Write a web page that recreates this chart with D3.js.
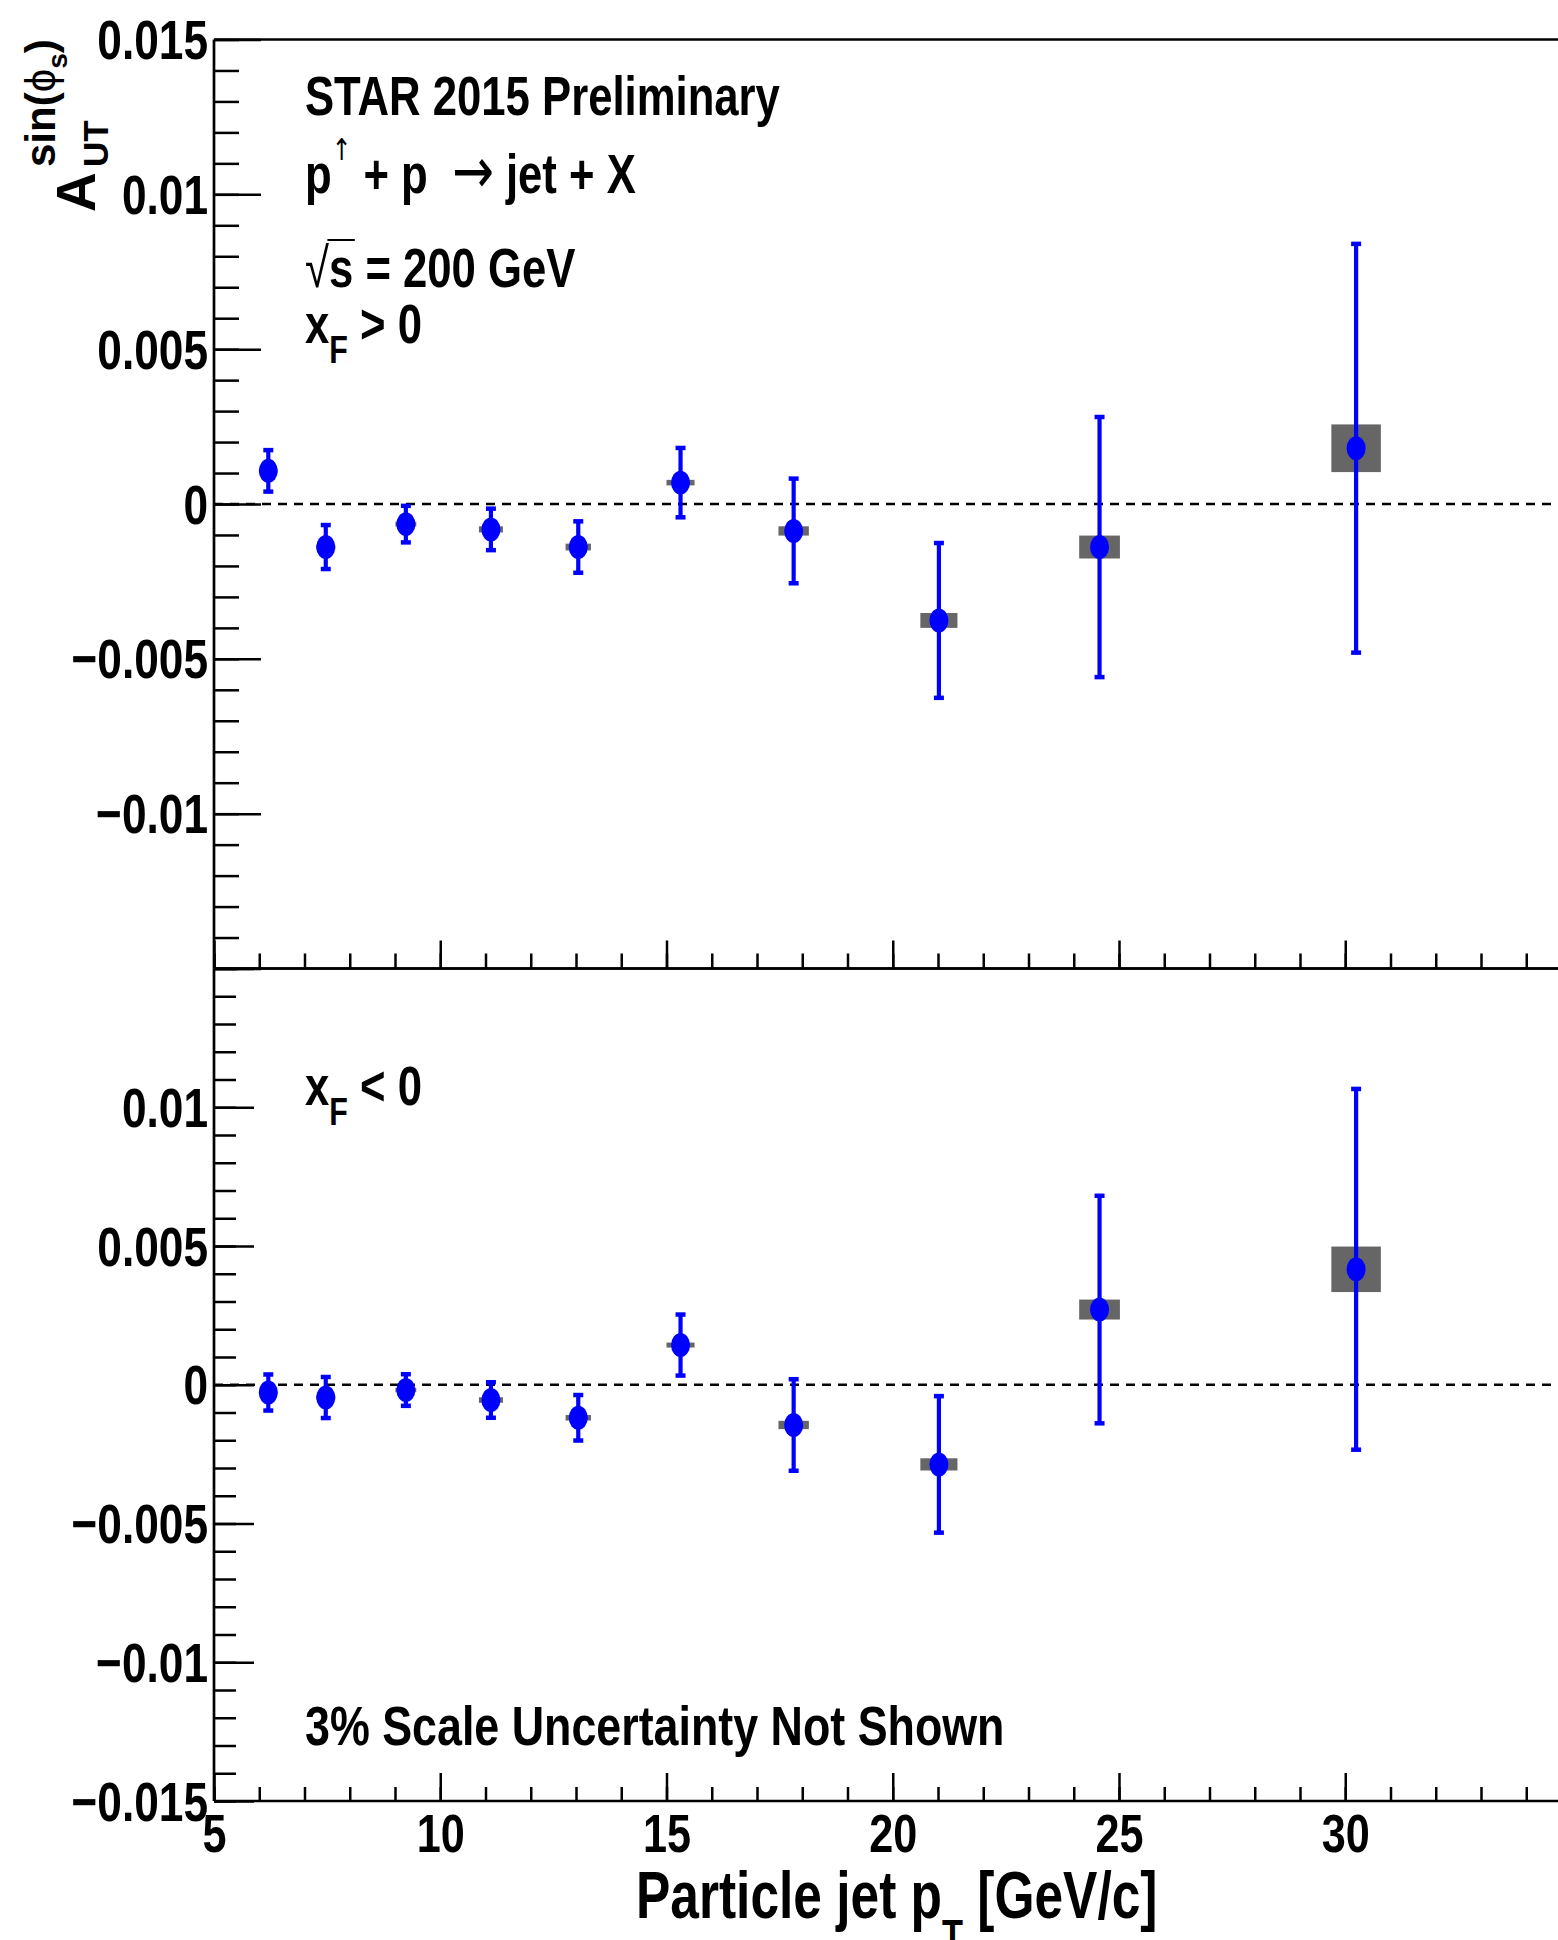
<!DOCTYPE html>
<html>
<head>
<meta charset="utf-8">
<script src="https://cdn.jsdelivr.net/npm/d3@7"></script>
<style>
  body { margin: 0; background: #fff; }
  svg text { font-family: "Liberation Sans", Arial, Helvetica, sans-serif; font-weight: bold; fill: #000; white-space: pre; }
</style>
</head>
<body>
<div id="chart"></div>
<script>
// jet pT bin centres [GeV/c] and the horizontal (jet pT) systematic half widths
const jetPt = [6.2, 7.47, 9.24, 11.12, 13.05, 15.31, 17.81, 21.02, 24.57, 30.24]
const jetPtSys = [0.2, 0.21, 0.23, 0.265, 0.28, 0.31, 0.336, 0.41, 0.45, 0.547]

// xF > 0
const autFwd = [0.00107, -0.00139, -0.00065, -0.00082, -0.00139, 0.00069, -0.00087, -0.00376, -0.00139, 0.0018]
const statFwd = [0.00067, 0.00071, 0.00059, 0.00067, 0.00083, 0.00112, 0.00169, 0.0025, 0.0042, 0.0066]
const sysFwd = [0.00008, 0.00008, 0.00008, 0.0001, 0.00011, 0.00009, 0.00015, 0.00024, 0.00037, 0.00077]

// xF < 0
const autBwd = [-0.00028, -0.00046, -0.00019, -0.00055, -0.00119, 0.00143, -0.00145, -0.00287, 0.00271, 0.00416]
const statBwd = [0.00065, 0.00074, 0.00057, 0.00064, 0.00082, 0.0011, 0.00165, 0.00246, 0.0041, 0.0065]
const sysBwd = [0.00008, 0.00008, 0.00008, 0.0001, 0.0001, 0.00009, 0.00015, 0.00022, 0.00036, 0.00082]

// tick labels
const xTickLabels = [5, 10, 15, 20, 25, 30]
const yLabelsTop = [0.015, 0.01, 0.005, 0, -0.005, -0.01]
const yLabelsBottom = [0.01, 0.005, 0, -0.005, -0.01, -0.015]

const W = 1558, H = 1940
const svg = d3.select("#chart").append("svg").attr("width", W).attr("height", H)

const x = d3.scaleLinear().domain([5, 35]).range([214, 1571.5])

const xMajorTicks = d3.range(5, 36, 5)
const xMinorTicks = d3.range(5, 36, 1)
const yMajorTicks = [-0.015, -0.01, -0.005, 0, 0.005, 0.01, 0.015]
const yMinorTicks = d3.range(-15, 16).map((i) => i / 1000)

const fmt = (d) => (d === 0 ? "0" : (d < 0 ? "\u2212" : "") + +Math.abs(d).toFixed(3))
const has = (arr, d) => arr.some((v) => Math.abs(v - d) < 1e-9)

const panels = [
  { aut: autFwd, stat: statFwd, sys: sysFwd, top: 39.5, bottom: 968.5, yMajor: 47, yMinor: 25, xMajor: 28, xMinor: 15, yLabels: yLabelsTop, xLabels: [] },
  { aut: autBwd, stat: statBwd, sys: sysBwd, top: 968.5, bottom: 1801, yMajor: 40, yMinor: 22, xMajor: 28, xMinor: 14, yLabels: yLabelsBottom, xLabels: xTickLabels }
]

panels.forEach((p) => {
  const y = d3.scaleLinear().domain([-0.015, 0.015]).range([p.bottom, p.top])
  const g = svg.append("g")

  // zero line
  g.append("line")
    .attr("x1", x(5)).attr("x2", x(35))
    .attr("y1", y(0)).attr("y2", y(0))
    .attr("stroke", "#000").attr("stroke-width", 2.5).attr("stroke-dasharray", "9,7")

  // Y axis: minor then major ticks (pointing inward)
  const gyMinor = g.append("g").attr("transform", `translate(${x(5)},0)`)
    .call(d3.axisLeft(y).tickValues(yMinorTicks).tickSize(-p.yMinor).tickFormat(""))
  const gyMajor = g.append("g").attr("transform", `translate(${x(5)},0)`)
    .call(d3.axisLeft(y).tickValues(yMajorTicks).tickSize(-p.yMajor).tickPadding(7.6)
      .tickFormat((d) => (has(p.yLabels, d) ? fmt(d) : "")))
  gyMajor.selectAll("text").attr("font-size", 56).attr("transform", "scale(0.79,1)").attr("dy", "0.34em")

  // X axis ticks along the pad bottom
  const gxMinor = g.append("g").attr("transform", `translate(0,${p.bottom})`)
    .call(d3.axisBottom(x).tickValues(xMinorTicks).tickSize(-p.xMinor).tickFormat(""))
  const gxMajor = g.append("g").attr("transform", `translate(0,${p.bottom})`)
    .call(d3.axisBottom(x).tickValues(xMajorTicks).tickSize(-p.xMajor).tickPadding(13)
      .tickFormat((d) => (p.xLabels.includes(d) ? d : "")))
  gxMajor.selectAll("text").attr("font-size", 54).attr("transform", "scale(0.8,1)")

  ;[gyMinor, gyMajor, gxMinor, gxMajor].forEach((a) => {
    a.select(".domain").remove()
    a.selectAll("line").attr("stroke", "#000").attr("stroke-width", 2.5)
  })

  // frame
  g.append("line").attr("x1", x(5)).attr("x2", x(5)).attr("y1", y(0.015)).attr("y2", y(-0.015))
    .attr("stroke", "#000").attr("stroke-width", 2.7)
  g.append("line").attr("x1", x(5)).attr("x2", x(35)).attr("y1", y(-0.015)).attr("y2", y(-0.015))
    .attr("stroke", "#000").attr("stroke-width", 2.7)
  g.append("line").attr("x1", x(5)).attr("x2", x(35)).attr("y1", y(0.015)).attr("y2", y(0.015))
    .attr("stroke", "#000").attr("stroke-width", 2.7)

  const pts = jetPt.map((pt, i) => ({ pt, dpt: jetPtSys[i], a: p.aut[i], stat: p.stat[i], sys: p.sys[i] }))

  // systematic boxes
  g.selectAll("rect.sys").data(pts).join("rect").attr("class", "sys")
    .attr("x", (d) => x(d.pt - d.dpt))
    .attr("width", (d) => x(d.pt + d.dpt) - x(d.pt - d.dpt))
    .attr("y", (d) => y(d.a + d.sys))
    .attr("height", (d) => y(d.a - d.sys) - y(d.a + d.sys))
    .attr("fill", "#666666")

  // statistical error bars
  g.selectAll("line.err").data(pts).join("line").attr("class", "err")
    .attr("x1", (d) => x(d.pt)).attr("x2", (d) => x(d.pt))
    .attr("y1", (d) => y(d.a + d.stat)).attr("y2", (d) => y(d.a - d.stat))
    .attr("stroke", "#0000ff").attr("stroke-width", 4.2)
  ;["hi", "lo"].forEach((side) => {
    g.selectAll("line.cap-" + side).data(pts).join("line").attr("class", "cap-" + side)
      .attr("x1", (d) => x(d.pt) - 5).attr("x2", (d) => x(d.pt) + 5)
      .attr("y1", (d) => y(side === "hi" ? d.a + d.stat : d.a - d.stat))
      .attr("y2", (d) => y(side === "hi" ? d.a + d.stat : d.a - d.stat))
      .attr("stroke", "#0000ff").attr("stroke-width", 4.5)
  })

  // markers
  g.selectAll("ellipse.pt").data(pts).join("ellipse").attr("class", "pt")
    .attr("cx", (d) => x(d.pt)).attr("cy", (d) => y(d.a))
    .attr("rx", 9.5).attr("ry", 12)
    .attr("fill", "#0000ff")
})

// text helper: parts = [{t, size, dy, weight, family}]
function label(px, py, parts, sx) {
  const t = svg.append("text").attr("transform", `translate(${px},${py}) scale(${sx},1)`)
  parts.forEach((s) => {
    const ts = t.append("tspan")
      .attr("font-size", s.size || 56)
      .attr("dy", s.dy || 0)
      .attr("font-weight", s.weight || "bold")
      .text(s.t)
    if (s.family) ts.style("font-family", s.family)
  })
  return t
}

label(305, 115, [{ t: "STAR 2015 Preliminary" }], 0.78)
label(305, 193, [
  { t: "p" },
  { t: "\u2191", size: 30, dy: -33, weight: "normal", family: "DejaVu Sans" },
  { t: " + p  ", dy: 33 },
  { t: "\u2192", size: 64, weight: "normal", family: "DejaVu Sans" },
  { t: " jet + X" }
], 0.78)
const sq = label(305, 287, [{ t: "\u221A", weight: "normal" }, { t: "s = 200 GeV" }], 0.78)
{
  const e0 = sq.node().getExtentOfChar(0)
  const e1 = sq.node().getExtentOfChar(1)
  const sqG = svg.append("g").attr("transform", "translate(305,287) scale(0.78,1)")
  sqG.append("line")
    .attr("x1", e0.x + e0.width - 2).attr("x2", e1.x + e1.width + 2)
    .attr("y1", -47).attr("y2", -47)
    .attr("stroke", "#000").attr("stroke-width", 2)
}
label(305, 343, [{ t: "x" }, { t: "F", size: 39, dy: 20 }, { t: " > 0", dy: -20 }], 0.78)
label(305, 1105, [{ t: "x" }, { t: "F", size: 39, dy: 20 }, { t: " < 0", dy: -20 }], 0.78)
label(305, 1745, [{ t: "3% Scale Uncertainty Not Shown" }], 0.8)

// x axis title
label(636, 1918, [
  { t: "Particle jet p", size: 66 },
  { t: "T", size: 44, dy: 33 },
  { t: " [GeV/c]", size: 66, dy: -33 }
], 0.78)

// y axis title (rotated)
const yt = svg.append("g").attr("transform", "translate(95,212) rotate(-90)")
yt.append("text").attr("font-size", 55).text("A")
yt.append("text").attr("x", 45).attr("y", 13).attr("font-size", 35).text("UT")
const sup = yt.append("text").attr("x", 45).attr("y", -40).attr("font-size", 42)
sup.append("tspan").text("sin(")
sup.append("tspan").attr("font-weight", "normal").text("\u03D5")
sup.append("tspan").attr("font-size", 28).attr("dy", 12).text("s")
sup.append("tspan").attr("dy", -12).text(")")
</script>
</body>
</html>
